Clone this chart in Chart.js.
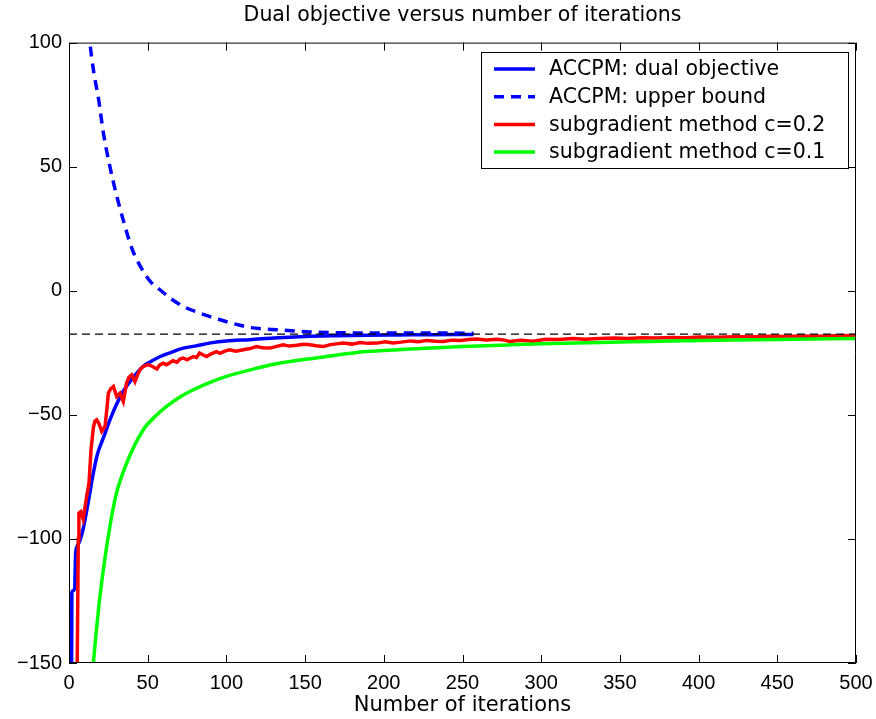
<!DOCTYPE html>
<html>
<head>
<meta charset="utf-8">
<script src="https://cdn.jsdelivr.net/npm/chart.js@4/dist/chart.umd.min.js"></script>
<style>
  html, body { margin: 0; padding: 0; background: #fff; }
</style>
</head>
<body>
<canvas id="dualChart" width="876" height="719"></canvas>
<script>
// ACCPM dual objective (solid blue)
const dualIter = [1.5, 1.8, 2.2, 3.6, 4.2, 5.2, 7, 9, 12, 15, 18, 22, 26, 30, 35, 40, 47, 52, 58, 65, 72, 80, 90, 100, 115, 130, 150, 170, 190, 210, 230, 257];
const dualVal = [-200, -122, -121, -120, -106, -103, -100.5, -96, -86, -75, -66, -59, -52, -46, -40, -35.5, -30.5, -28.5, -26.5, -24.8, -23.2, -22.3, -21, -20.2, -19.7, -19.0, -18.4, -18.1, -17.9, -17.8, -17.7, -17.6];

// ACCPM upper bound (dashed blue)
const upperIter = [8, 10, 13.3, 16, 18.6, 22, 26, 30, 34.4, 40, 47, 52, 57.8, 65, 72.6, 83, 96, 108.6, 115, 134, 153, 170, 190, 220, 257];
const upperVal = [160, 125, 100, 87, 78, 63, 50, 39, 28.6, 17, 8, 3.5, 0.4, -3.3, -6.3, -9, -11.7, -13.9, -14.8, -15.8, -16.6, -16.9, -17.0, -17.0, -17.1];

// subgradient method c=0.2 (red)
const redIter = [4.9, 5.9, 6.3, 7.5, 9, 10, 11.2, 12.7, 14, 15.5, 16.5, 17.6, 19, 20.8, 22.9, 24, 25, 26.5, 28.2, 30.3,
  32.4, 34.5, 36.6, 38, 39.8, 41.9, 44, 45.5, 47.2, 50.4, 53, 55.8, 57.5, 59.9, 62, 64, 66, 68.6, 70.5, 72.5,
  75, 78.9, 81, 83, 85, 87.4, 90, 93.7, 96, 99, 102, 106, 110.7, 115, 119, 123, 127.6, 132, 136, 140,
  144.7, 149, 153, 157, 161.6, 166, 170, 174, 180, 185, 190, 195.7, 201, 206, 211, 217, 222, 227.5, 233, 238,
  243, 248.6, 254, 259, 265, 272, 276, 280, 287, 294.7, 303, 311, 320, 328, 337, 346, 355, 364, 373, 383,
  392, 401, 412, 423, 434, 445, 456, 464, 475, 487, 500];
const redVal = [-175, -100, -89.6, -89, -92, -88, -83, -77.5, -64, -55, -52.5, -52, -53.5, -56.7, -54.7, -48, -41.3, -39.5, -38.6, -42.6,
  -41.3, -44.6, -37.2, -35, -33.9, -36.6, -33.2, -31.5, -30.5, -29.8, -30.5, -31.5, -30, -29.2, -29.8, -29.0, -28.2, -28.8, -27.5, -27.1,
  -27.8, -26.5, -26.9, -25.1, -25.8, -26.5, -25.5, -24.5, -25.2, -24.3, -23.8, -24.4, -23.8, -23.3, -22.5, -23.0, -23.1, -22.4, -21.8, -22.3,
  -22.0, -21.6, -21.8, -22.2, -22.5, -21.7, -21.4, -21.1, -21.5, -20.9, -21.2, -21.1, -20.6, -21.0, -20.7, -20.2, -20.5, -20.0, -20.3, -20.4,
  -19.9, -20.0, -19.6, -19.4, -19.8, -19.5, -19.8, -20.4, -19.9, -20.3, -19.5, -19.6, -19.2, -19.5, -19.2, -19.0, -19.2, -18.9, -19.0, -18.8,
  -18.9, -18.6, -18.7, -18.5, -18.5, -18.3, -18.4, -18.2, -18.3, -18.1, -18.0];

// subgradient method c=0.1 (green)
const greenIter = [14, 15.5, 19.7, 25.6, 30, 36.6, 47.2, 55, 62, 70, 79, 90, 100, 115, 130, 147, 160, 189, 217, 250, 280, 300, 337, 370, 401, 450, 500];
const greenVal = [-162, -150, -123, -96.4, -82, -69.5, -56, -50.5, -46.6, -43, -39.9, -36.8, -34.5, -31.9, -29.6, -27.9, -26.8, -24.5, -23.5, -22.5, -21.8, -21.4, -20.8, -20.4, -20.0, -19.6, -19.2];

// optimal value (black dashed)
const optIter = [0, 500];
const optVal = [-17.5, -17.5];

const xTicks = [0, 50, 100, 150, 200, 250, 300, 350, 400, 450, 500];
const yTicks = [-150, -100, -50, 0, 50, 100];

const TICK_FONT = "'Liberation Sans', Arial, Helvetica, sans-serif";
const TEXT_FONT = "'DejaVu Sans', Verdana, sans-serif";
Chart.defaults.font.family = TICK_FONT;
Chart.defaults.color = "#000";

function toPoints(xs, ys) {
  return xs.map((x, i) => ({ x: x, y: ys[i] }));
}

// matlab style box, inward ticks on all four sides and the legend box
const frameTicks = {
  id: "frameTicks",
  afterDraw(chart) {
    const { ctx, chartArea: a, scales } = chart;
    const len = 8;
    ctx.save();
    ctx.strokeStyle = "#000";
    ctx.lineWidth = 1;
    ctx.beginPath();
    ctx.rect(a.left + 0.5, a.top + 0.5, a.right - a.left - 1, a.bottom - a.top - 1);
    xTicks.forEach((v) => {
      const px = Math.round(scales.x.getPixelForValue(v)) + 0.5;
      ctx.moveTo(px, a.bottom);
      ctx.lineTo(px, a.bottom - len);
      ctx.moveTo(px, a.top);
      ctx.lineTo(px, a.top + len);
    });
    yTicks.forEach((v) => {
      const py = Math.round(scales.y.getPixelForValue(v)) + 0.5;
      ctx.moveTo(a.left, py);
      ctx.lineTo(a.left + len, py);
      ctx.moveTo(a.right, py);
      ctx.lineTo(a.right - len, py);
    });
    ctx.stroke();

    // legend
    const box = { left: 481, top: 52, width: 367, height: 116 };
    const rowH = 27.7;
    ctx.fillStyle = "#fff";
    ctx.fillRect(box.left, box.top, box.width, box.height);
    ctx.strokeRect(box.left + 0.5, box.top + 0.5, box.width, box.height);
    ctx.font = "20.5px " + TEXT_FONT;
    ctx.textBaseline = "middle";
    ctx.textAlign = "left";
    chart.data.datasets.slice(0, 4).forEach((ds, i) => {
      const cy = box.top + 17 + i * rowH;
      ctx.save();
      ctx.strokeStyle = ds.borderColor;
      ctx.lineWidth = ds.borderWidth;
      ctx.setLineDash(ds.borderDash || []);
      ctx.beginPath();
      ctx.moveTo(box.left + 13, cy);
      ctx.lineTo(box.left + 54, cy);
      ctx.stroke();
      ctx.restore();
      ctx.fillStyle = "#000";
      ctx.fillText(ds.label, box.left + 68, cy + 1);
    });
    ctx.restore();
  },
};

const datasets = [
  {
    label: "ACCPM: dual objective",
    data: toPoints(dualIter, dualVal),
    borderColor: "#0000ff",
    borderWidth: 3.5,
    cubicInterpolationMode: "monotone",
    order: 4,
  },
  {
    label: "ACCPM: upper bound",
    data: toPoints(upperIter, upperVal),
    borderColor: "#0000ff",
    borderWidth: 3.5,
    borderDash: [10, 7],
    cubicInterpolationMode: "monotone",
    order: 3,
  },
  {
    label: "subgradient method c=0.2",
    data: toPoints(redIter, redVal),
    borderColor: "#ff0000",
    borderWidth: 3.5,
    tension: 0,
    order: 2,
  },
  {
    label: "subgradient method c=0.1",
    data: toPoints(greenIter, greenVal),
    borderColor: "#00ff00",
    borderWidth: 3.5,
    cubicInterpolationMode: "monotone",
    order: 1,
  },
  {
    label: "optimum",
    data: toPoints(optIter, optVal),
    borderColor: "#000",
    borderWidth: 1.2,
    borderDash: [8, 5],
    order: 0,
  },
];

const config = {
  type: "line",
  data: { datasets: datasets },
  options: {
    responsive: false,
    animation: false,
    elements: { point: { radius: 0 } },
    layout: { padding: { left: 0, right: 20, top: 0, bottom: 0 } },
    plugins: {
      legend: { display: false },
      tooltip: { enabled: false },
      title: {
        display: true,
        fullSize: false,
        text: "Dual objective versus number of iterations",
        font: { size: 20.5, weight: "normal", family: TEXT_FONT },
        color: "#000",
        padding: { top: 3, bottom: 15 },
      },
    },
    scales: {
      x: {
        type: "linear",
        min: 0,
        max: 500,
        afterBuildTicks: (s) => { s.ticks = xTicks.map((v) => ({ value: v })); },
        ticks: { font: { size: 20 }, padding: 8, maxRotation: 0, autoSkip: false },
        grid: { display: false, drawTicks: false },
        border: { display: false },
        title: {
          display: true,
          text: "Number of iterations",
          font: { size: 21, family: TEXT_FONT },
          padding: { top: 0, bottom: 1 },
        },
        afterFit: (s) => {
          s.height = 56;
          s.paddingLeft = 0;
          s.paddingRight = 0;
        },
      },
      y: {
        type: "linear",
        min: -150,
        max: 100,
        afterBuildTicks: (s) => { s.ticks = yTicks.map((v) => ({ value: v })); },
        ticks: {
          font: { size: 20 },
          padding: 7,
          callback: (v) => String(v).replace("-", "\u2212"),
        },
        grid: { display: false, drawTicks: false },
        border: { display: false },
        afterFit: (s) => {
          s.width = 69;
          s.paddingTop = 0;
          s.paddingBottom = 0;
        },
      },
    },
  },
  plugins: [frameTicks],
};

new Chart(document.getElementById("dualChart"), config);
</script>
</body>
</html>
